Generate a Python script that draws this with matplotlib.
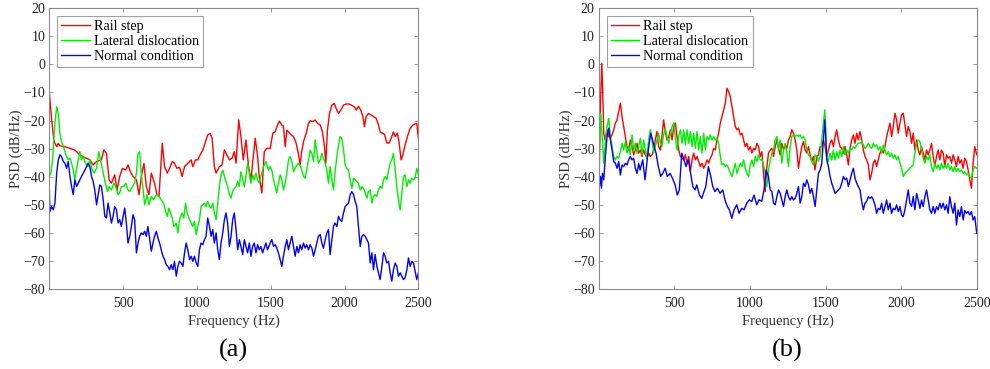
import matplotlib
matplotlib.use('Agg')
import matplotlib.pyplot as plt

# ---- (a) ----
a_rail_f = [0, 16, 32, 50, 61, 72, 106, 140, 173, 207, 241, 275, 297, 320, 353, 369, 387, 405, 421, 443,
            459, 477, 495, 518, 533, 549, 567, 590, 608, 623, 641, 657, 675, 691, 713, 729, 743, 765, 781, 799,
            815, 833, 848, 864, 882, 900, 916, 938, 961, 972, 990, 1006, 1022, 1040, 1062, 1073, 1089, 1103, 1118, 1130,
            1152, 1170, 1186, 1202, 1220, 1238, 1253, 1265, 1283, 1298, 1314, 1332, 1350, 1366, 1377, 1395, 1411, 1422, 1440, 1456,
            1472, 1496, 1514, 1530, 1546, 1559, 1575, 1586, 1598, 1609, 1620, 1636, 1654, 1672, 1688, 1699, 1710, 1722, 1740, 1756,
            1767, 1785, 1801, 1817, 1835, 1850, 1864, 1873, 1884, 1898, 1914, 1930, 1943, 1959, 1975, 1993, 2011, 2029, 2047, 2065,
            2079, 2094, 2110, 2124, 2135, 2146, 2162, 2180, 2196, 2214, 2230, 2241, 2257, 2271, 2286, 2302, 2320, 2331, 2343, 2358,
            2370, 2383, 2395, 2410, 2426, 2444, 2462, 2478, 2489, 2500]
a_rail_db = [-10, -19.8, -27.5, -29.3, -28.1, -29, -29.3, -29.9, -30.5, -32.2, -33.2, -34, -35.8, -34.6, -34, -30.5, -31.6, -41.1, -42.3, -39.3,
             -44.7, -39.9, -37, -37.6, -35.8, -38.2, -39.9, -41.1, -46.4, -39.9, -35.2, -43.5, -46.4, -38.7, -42.3, -46.4, -47, -28.1, -36.4, -38.7,
             -37, -34.6, -35.2, -37, -36.6, -39.9, -36.4, -35.2, -34, -36.4, -34, -34, -32.2, -30.5, -26.9, -25.1, -24.6, -26.3, -36.4, -38.7,
             -36.4, -35.8, -30.5, -32.2, -34, -33.4, -31.1, -35.2, -19.8, -25.7, -34, -26.9, -36.4, -41.1, -35.2, -26.3, -32.8, -39.9, -45.8, -31.1,
             -29.9, -29.9, -24.5, -24, -21.6, -20.2, -21.6, -22, -29.3, -23.4, -24, -25, -25.7, -28, -32, -35.8, -31, -27.5, -24.5, -21,
             -20, -20.4, -19.8, -21, -21.6, -24, -29.3, -35.2, -23.4, -17.5, -14.5, -13.9, -15.7, -17.5, -16.3, -14.5, -14.1, -14.1, -14.5, -15.1,
             -16.3, -14.9, -16.3, -18.6, -22.2, -18.6, -17.5, -18, -18.6, -19.2, -21.6, -24, -24.5, -25, -28, -28, -25.7, -24, -25.7, -24.5,
             -28, -34, -32.2, -28.7, -25.7, -22.8, -21.6, -21.2, -21, -26.3]

a_lat_f = [0, 11, 22, 38, 50, 61, 72, 83, 95, 106, 117, 128, 140, 151, 162, 173, 185, 196, 207, 218,
           230, 245, 263, 275, 290, 304, 320, 335, 349, 365, 380, 394, 405, 421, 437, 450, 466, 477, 488, 504,
           518, 533, 545, 563, 578, 590, 601, 612, 623, 635, 646, 662, 675, 691, 707, 725, 743, 758, 774, 788,
           799, 810, 821, 833, 844, 860, 871, 882, 900, 911, 923, 934, 950, 961, 972, 983, 995, 1006, 1017, 1028,
           1040, 1051, 1062, 1073, 1085, 1096, 1107, 1118, 1130, 1141, 1152, 1163, 1175, 1186, 1197, 1208, 1220, 1231, 1242, 1253,
           1265, 1276, 1287, 1298, 1310, 1321, 1332, 1343, 1355, 1366, 1377, 1388, 1400, 1411, 1422, 1433, 1445, 1456, 1467, 1485,
           1496, 1507, 1519, 1530, 1541, 1552, 1564, 1575, 1586, 1598, 1609, 1620, 1631, 1643, 1654, 1665, 1677, 1688, 1699, 1710,
           1722, 1733, 1744, 1756, 1767, 1778, 1790, 1801, 1812, 1823, 1835, 1846, 1857, 1869, 1880, 1891, 1902, 1914, 1925, 1936,
           1948, 1959, 1970, 1981, 1993, 2004, 2015, 2027, 2038, 2049, 2061, 2072, 2083, 2094, 2106, 2117, 2128, 2140, 2151, 2162,
           2174, 2185, 2196, 2207, 2219, 2230, 2241, 2253, 2264, 2275, 2286, 2298, 2309, 2320, 2331, 2343, 2354, 2365, 2377, 2388,
           2399, 2410, 2422, 2433, 2444, 2456, 2467, 2478, 2489, 2500]
a_lat_db = [-39.9, -38.7, -34, -21, -15.1, -17.5, -24.6, -27.5, -29.3, -31.1, -32.8, -34, -33.4, -35.2, -37.6, -41.1, -37, -34, -31.1, -34,
            -32.8, -35.2, -36.4, -34, -37.6, -38.7, -37, -31.1, -34.6, -38.7, -42.3, -45.3, -43.5, -44.7, -42.3, -43.5, -46.4, -45.8, -43.5, -43.5,
            -42.3, -44.7, -45.3, -43.5, -42.3, -38.7, -31.7, -31.1, -38.7, -44.7, -50, -46.4, -50, -47, -48.2, -46.4, -47, -48.2, -49.4, -52.4,
            -54.1, -51.2, -52.9, -54.7, -57.7, -56.5, -60, -55.3, -52.9, -54.7, -49.4, -52.9, -55.3, -56.5, -57.7, -55.9, -60.6, -57.7, -55.3, -50.6,
            -50, -49.4, -50.6, -48.8, -50.6, -51.2, -49.4, -52.9, -55.3, -49.4, -43.5, -39.3, -37.6, -39.9, -41.7, -43.5, -46.4, -47.6, -45.3, -44.1,
            -43.5, -41.7, -43.5, -38.2, -41.1, -43.5, -39.9, -35.2, -38.7, -42.3, -39.3, -41.1, -38.7, -41.1, -42.3, -39.9, -37.6, -35.8, -34.6, -37.6,
            -36.4, -37.6, -41.1, -43.5, -45.8, -42.3, -39.3, -41.1, -44.7, -42.3, -38.7, -34, -32.8, -34.6, -38.2, -37, -35.8, -35.2, -36.1, -37.6,
            -39.9, -40.5, -37.6, -34, -30.5, -31.7, -34.6, -26.9, -31.1, -35.2, -34, -31.7, -33.4, -35.2, -37.6, -42.3, -36.4, -41.1, -44.7, -38.2,
            -32.8, -28.7, -25.7, -26.3, -30.5, -35.8, -37, -37.6, -41.1, -44.1, -40.5, -41.1, -41.7, -42.3, -44.7, -43.5, -44.1, -45.8, -47.6, -45.3,
            -44.7, -49.4, -47, -46.4, -47, -44.7, -43.5, -44.1, -41.1, -39.9, -41.1, -37.6, -35.2, -34, -31.7, -37.6, -43.5, -48.2, -51.8, -45.8,
            -39.9, -39.3, -43.5, -41.1, -42.3, -40.5, -41.1, -40.5, -37, -39.3]

a_norm_f = [0, 4, 16, 27, 38, 50, 61, 72, 83, 95, 106, 117, 128, 140, 151, 162, 173, 185, 196, 207,
            218, 230, 241, 252, 263, 275, 286, 297, 308, 320, 331, 342, 353, 365, 376, 387, 398, 410, 421, 432,
            443, 455, 466, 477, 488, 500, 511, 522, 533, 545, 556, 567, 578, 590, 601, 612, 623, 635, 646, 657,
            668, 680, 691, 702, 713, 725, 736, 747, 758, 770, 781, 792, 803, 815, 826, 837, 848, 860, 871, 882,
            893, 905, 916, 927, 938, 950, 961, 972, 983, 995, 1006, 1017, 1028, 1040, 1051, 1062, 1073, 1085, 1096, 1107,
            1118, 1130, 1141, 1152, 1163, 1175, 1186, 1197, 1208, 1220, 1231, 1242, 1253, 1265, 1276, 1287, 1298, 1310, 1321, 1332,
            1343, 1355, 1366, 1377, 1388, 1400, 1411, 1422, 1433, 1445, 1456, 1467, 1478, 1496, 1507, 1519, 1530, 1541, 1552, 1564,
            1575, 1586, 1598, 1609, 1620, 1631, 1643, 1654, 1665, 1677, 1688, 1699, 1710, 1722, 1733, 1744, 1756, 1767, 1778, 1790,
            1801, 1812, 1823, 1835, 1846, 1857, 1869, 1880, 1891, 1902, 1914, 1925, 1936, 1948, 1959, 1970, 1981, 1993, 2004, 2015,
            2027, 2038, 2049, 2061, 2072, 2083, 2094, 2106, 2117, 2128, 2140, 2151, 2162, 2174, 2185, 2196, 2207, 2219, 2230, 2241,
            2253, 2264, 2275, 2286, 2298, 2309, 2320, 2331, 2343, 2354, 2365, 2377, 2388, 2399, 2410, 2422, 2433, 2444, 2456, 2467,
            2478, 2489, 2500]
a_norm_db = [-43.5, -52.4, -50.6, -51.8, -49.4, -38.7, -34, -32.2, -32.8, -34.6, -35.2, -37, -34.6, -39.9, -43.5, -46.4, -41.1, -43.5, -42.3, -41.1,
             -39.9, -38.7, -37.6, -36.4, -35.2, -36.4, -39.9, -41.7, -44.7, -50, -46.4, -42.9, -43.5, -48.2, -54.1, -54.7, -49.4, -52.9, -56.5, -54.1,
             -50.6, -51.8, -56.5, -55.3, -57.7, -54.1, -51.2, -56.5, -63.6, -61.2, -57.7, -53.5, -55.3, -67.1, -63.6, -61.2, -60, -60.6, -59.4, -61.2,
             -57.7, -62.4, -66.5, -63.6, -61.2, -59.4, -61.8, -63.6, -66, -68.3, -69.5, -71.3, -71.9, -73.1, -71.3, -73.1, -70.1, -75.4, -71.9, -70.1,
             -70.7, -71.9, -67.1, -63.6, -66, -69.5, -68.3, -70.1, -68.3, -70.7, -71.9, -66, -63.6, -64.2, -62.4, -61.2, -54.7, -57.7, -61.2, -58.8,
             -63.6, -60, -66, -69.5, -63.6, -60, -55.3, -52.9, -56.5, -64.8, -61.2, -55.3, -52.9, -58.8, -66, -62.4, -64.8, -67.7, -62.4, -64.8,
             -67.1, -63.6, -68.3, -64.8, -63.6, -67.1, -64.2, -66, -64.8, -67.1, -65.4, -63.6, -66, -63.6, -62.4, -64.8, -64.2, -65.4, -67.1, -69.5,
             -71.9, -68.3, -64.8, -62.4, -66, -63.6, -61.2, -64.8, -68.3, -64.8, -67.1, -64.2, -66, -63.6, -65.4, -64.2, -66, -64.2, -65.4, -68.3,
             -66, -63.6, -61.2, -60.6, -63.6, -65.4, -62.4, -60, -58.8, -67.7, -62.4, -57.7, -56.5, -57.7, -54.1, -55.3, -55.9, -52.9, -50.6, -50,
             -49.4, -46.4, -45.3, -46.4, -48.8, -50.6, -57.7, -64.8, -61.2, -60.6, -61.2, -62.4, -63.6, -70.7, -67.1, -73.1, -67.7, -71.9, -74.2, -76.6,
             -71.9, -67.1, -68.3, -70.7, -70.1, -74.2, -77.2, -73.1, -70.7, -71.9, -75.4, -74.2, -75.4, -76.6, -76, -73.1, -68.9, -71.9, -70.1, -70.7,
             -73.7, -76.6, -74.2]

# ---- (b) ----
b_rail_f = [0, 4, 11, 20, 26, 33, 42, 55, 66, 77, 88, 99, 110, 121, 132, 143, 154, 165, 176, 187,
            198, 209, 220, 231, 242, 253, 264, 275, 286, 297, 308, 319, 330, 341, 352, 363, 374, 385, 396, 407,
            418, 429, 440, 451, 463, 474, 485, 496, 507, 518, 529, 540, 551, 562, 573, 584, 595, 606, 617, 628,
            639, 650, 661, 672, 683, 694, 705, 716, 727, 738, 749, 760, 771, 782, 793, 804, 815, 826, 837, 848,
            859, 870, 881, 892, 903, 914, 925, 936, 947, 958, 969, 980, 991, 1002, 1013, 1024, 1035, 1046, 1057, 1068,
            1079, 1090, 1101, 1112, 1123, 1134, 1145, 1156, 1167, 1178, 1189, 1200, 1211, 1222, 1233, 1244, 1255, 1266, 1277, 1288,
            1299, 1310, 1321, 1332, 1343, 1354, 1365, 1376, 1387, 1398, 1409, 1420, 1431, 1442, 1453, 1464, 1475, 1486, 1497, 1508,
            1519, 1530, 1541, 1552, 1563, 1574, 1585, 1596, 1607, 1618, 1629, 1640, 1651, 1662, 1673, 1684, 1695, 1706, 1717, 1728,
            1739, 1750, 1761, 1772, 1783, 1794, 1805, 1816, 1827, 1838, 1849, 1860, 1871, 1882, 1893, 1904, 1915, 1926, 1937, 1948,
            1959, 1970, 1981, 1992, 2003, 2014, 2025, 2036, 2047, 2058, 2069, 2080, 2091, 2102, 2113, 2124, 2135, 2146, 2157, 2168,
            2179, 2190, 2201, 2212, 2223, 2234, 2245, 2256, 2267, 2278, 2289, 2300, 2311, 2322, 2333, 2344, 2355, 2366, 2377, 2388,
            2399, 2410, 2421, 2432, 2443, 2454, 2465, 2476, 2487, 2500]
b_rail_db = [-35, -36.4, -15, 0.4, -9.1, -24.5, -26.9, -23.3, -25.7, -26.3, -25.1, -23.3, -20.9, -19.8, -16.8, -13.8, -18.6, -22.1, -25.7, -29.3,
             -30.5, -26.9, -29.3, -32.2, -30.5, -28.1, -31.6, -30.5, -32.8, -30.5, -32.2, -33.4, -31.6, -32.8, -32.2, -30.5, -26.9, -23.9, -29.3, -30.5,
             -25.7, -19.8, -23.9, -26.9, -25.7, -23.3, -26.9, -22.1, -20.9, -25.7, -30.5, -32.8, -33.4, -34, -32.2, -35.2, -32.8, -38.2, -34, -31.6,
             -34, -32.8, -34.6, -36.4, -35.2, -37, -35.8, -34, -35.2, -33.4, -32.2, -29.9, -30.5, -26.9, -24.5, -20.9, -18.6, -16.2, -13.8, -8.5,
             -9.7, -11.5, -15, -18.6, -22.1, -23.3, -22.7, -25.1, -24.5, -26.9, -29.3, -28.1, -30.5, -29.3, -31.6, -29.9, -30.5, -28.1, -29.3, -32.8,
             -31.1, -38.8, -45.3, -36.4, -31.6, -30.5, -29.9, -32.8, -29.3, -26.9, -29.9, -32.2, -28.1, -30.5, -28.7, -29.9, -26.9, -25.7, -23.3, -24.5,
             -26.9, -30.5, -37, -32.8, -29.3, -27.5, -30.5, -31.6, -29.3, -32.2, -34.6, -32.8, -37.6, -32.8, -32.2, -29.3, -29.3, -26.9, -29.3, -32.8,
             -30.5, -28.1, -26.9, -29.3, -25.7, -23.3, -26.9, -29.3, -29.9, -31.6, -29.3, -32.2, -35.8, -29.9, -26.9, -25.1, -28.1, -24.5, -26.9, -23.9,
             -26.9, -30.5, -32.8, -34, -35.8, -41.1, -38.8, -35.2, -34, -36.4, -34, -31.6, -30.5, -31.6, -29.3, -25.7, -23.3, -20.9, -25.7, -22.1,
             -17.4, -19.8, -24.5, -20.9, -18, -17.4, -21.5, -25.7, -22.1, -23.9, -28.1, -24.5, -30.5, -26.9, -30.5, -32.2, -29.3, -31.6, -34, -30.5,
             -32.2, -30.5, -28.1, -32.8, -36.4, -32.8, -30.5, -34, -30.5, -31.6, -36.4, -32.2, -33.4, -32.8, -35.2, -32.2, -34, -36.4, -32.8, -35.2,
             -34, -37, -33.4, -34.6, -37.6, -41.1, -44.1, -35.2, -29.3, -32.2]

b_lat_f = [0, 7, 13, 22, 33, 44, 55, 66, 77, 88, 99, 110, 121, 132, 143, 154, 165, 176, 187, 198,
           209, 220, 231, 242, 253, 264, 275, 286, 297, 308, 319, 330, 341, 352, 363, 374, 385, 396, 407, 418,
           429, 440, 451, 463, 474, 485, 496, 507, 518, 529, 540, 551, 562, 573, 584, 595, 606, 617, 628, 639,
           650, 661, 672, 683, 694, 705, 716, 727, 738, 749, 760, 771, 782, 793, 804, 815, 826, 837, 848, 859,
           870, 881, 892, 903, 914, 925, 936, 947, 958, 969, 980, 991, 1002, 1013, 1024, 1035, 1046, 1057, 1068, 1079,
           1090, 1101, 1112, 1123, 1134, 1145, 1156, 1167, 1178, 1189, 1200, 1211, 1222, 1233, 1244, 1255, 1266, 1277, 1288, 1299,
           1310, 1321, 1332, 1343, 1354, 1365, 1376, 1387, 1398, 1409, 1420, 1431, 1442, 1453, 1464, 1475, 1486, 1495, 1502, 1508,
           1519, 1530, 1541, 1552, 1563, 1574, 1585, 1596, 1607, 1618, 1629, 1640, 1651, 1662, 1673, 1684, 1695, 1706, 1717, 1728,
           1739, 1750, 1761, 1772, 1783, 1794, 1805, 1816, 1827, 1838, 1849, 1860, 1871, 1882, 1893, 1904, 1915, 1926, 1937, 1948,
           1959, 1970, 1981, 1992, 2003, 2014, 2025, 2036, 2047, 2058, 2069, 2080, 2091, 2102, 2113, 2124, 2135, 2146, 2157, 2168,
           2179, 2190, 2201, 2212, 2223, 2234, 2245, 2256, 2267, 2278, 2289, 2300, 2311, 2322, 2333, 2344, 2355, 2366, 2377, 2388,
           2399, 2410, 2421, 2432, 2443, 2454, 2465, 2476, 2487, 2500]
b_lat_db = [-36.4, -26.9, -17.4, -25.7, -35.2, -26.9, -22.1, -19.2, -25.7, -29.3, -32.8, -34, -32.8, -33.4, -31.1, -28.1, -30.5, -27.5, -31.6, -29.3,
            -32.2, -25.1, -30.5, -28.1, -31.6, -29.3, -26.3, -32.2, -26.9, -30.5, -33.4, -26.9, -23.3, -26.9, -31.6, -29.3, -26.9, -24.5, -28.1, -29.3,
            -25.1, -22.7, -25.7, -28.1, -24.5, -22.1, -20.9, -26.3, -30.5, -25.7, -23.3, -28.1, -23.3, -28.7, -23.3, -28.1, -23.9, -29.3, -24.5, -29.9,
            -23.9, -30.5, -25.7, -31.6, -24.5, -30.5, -25.7, -26.9, -25.1, -26.9, -25.7, -26.9, -26.3, -28.1, -32.8, -35.8, -35.2, -36.4, -35.8, -37,
            -38.8, -40, -37.6, -35.2, -38.8, -37, -35.2, -36.4, -34, -37, -38.8, -40, -35.8, -34, -36.4, -32.8, -34.6, -32.2, -34, -34,
            -35.8, -38.8, -43.5, -37.6, -34, -31.6, -30.5, -26.9, -25.7, -30.5, -26.9, -35.2, -30.5, -28.1, -31.6, -36.4, -29.3, -25.7, -25.1, -25.7,
            -25.1, -25.7, -25.1, -26.3, -25.7, -26.9, -30.5, -32.2, -32.8, -34.6, -35.8, -32.2, -32.8, -34.6, -32.8, -26.9, -20.9, -16.2, -23.3, -32.8,
            -34.6, -31.6, -34, -30.5, -34, -31.1, -33.4, -30.5, -32.8, -29.3, -32.2, -30.5, -31.6, -29.9, -30.5, -29.3, -29.9, -28.7, -28.1, -28.1,
            -27.5, -28.7, -29.9, -29.3, -28.1, -29.3, -29.9, -28.1, -29.3, -28.7, -30.5, -29.3, -31.6, -28.7, -30.5, -32.2, -31.1, -32.8, -31.6, -33.4,
            -32.2, -34, -32.8, -35.2, -37, -40, -38.8, -38.2, -37.6, -37, -36.4, -35.8, -31.6, -28.1, -26.9, -27.5, -30.5, -33.4, -35.2, -32.8,
            -34, -32.2, -36.4, -38.2, -35.2, -37, -35.8, -37.6, -35.2, -37, -35.8, -37, -35.2, -37.6, -36.4, -38.2, -36.4, -38.2, -37, -38.2,
            -37.6, -38.8, -38.2, -39.4, -38.8, -40, -40.5, -37.6, -36.4, -37]

b_norm_f = [0, 4, 11, 18, 24, 33, 44, 55, 66, 77, 88, 99, 110, 121, 132, 143, 154, 165, 176, 187,
            198, 209, 220, 231, 242, 253, 264, 273, 291, 306, 328, 344, 361, 379, 394, 410, 423, 439, 454, 472,
            487, 505, 520, 533, 549, 564, 577, 593, 608, 622, 637, 648, 666, 681, 692, 708, 725, 741, 754, 769,
            785, 802, 820, 835, 851, 864, 880, 895, 913, 928, 946, 961, 979, 996, 1012, 1027, 1045, 1060, 1078, 1093,
            1107, 1122, 1134, 1145, 1156, 1167, 1178, 1189, 1200, 1211, 1222, 1233, 1244, 1255, 1266, 1277, 1288, 1299, 1310, 1321,
            1332, 1343, 1354, 1365, 1376, 1387, 1398, 1409, 1420, 1431, 1442, 1453, 1464, 1475, 1486, 1495, 1502, 1508, 1519, 1530,
            1541, 1552, 1563, 1574, 1585, 1596, 1607, 1618, 1629, 1640, 1651, 1662, 1673, 1684, 1695, 1706, 1717, 1728, 1739, 1750,
            1761, 1772, 1783, 1794, 1805, 1816, 1827, 1838, 1849, 1860, 1871, 1882, 1893, 1904, 1915, 1926, 1937, 1948, 1959, 1970,
            1981, 1992, 2003, 2014, 2025, 2036, 2047, 2058, 2069, 2080, 2091, 2102, 2113, 2124, 2135, 2146, 2157, 2168, 2179, 2190,
            2201, 2212, 2223, 2234, 2245, 2256, 2267, 2278, 2289, 2300, 2311, 2322, 2333, 2344, 2355, 2366, 2377, 2388, 2399, 2410,
            2421, 2432, 2443, 2454, 2465, 2476, 2487, 2500]
b_norm_db = [-26.9, -43.5, -39.9, -44.1, -38.8, -41.1, -32.8, -25.7, -22.7, -26.9, -30.5, -34.6, -35.2, -37, -34.6, -39.4, -35.8, -36.4, -35.2, -35.8,
             -34, -32.8, -34, -33.4, -37, -38.8, -35.2, -37.6, -34, -41.1, -30.4, -24.5, -28.1, -31.6, -36.4, -39.9, -38.8, -37, -39.9, -38.8,
             -40.5, -42.9, -46.5, -44.7, -31.6, -34, -36.4, -34, -38.8, -43.5, -44.7, -42.9, -46.5, -47.7, -45.9, -43.5, -36.4, -39.9, -43.5, -45.3,
             -44.1, -45.9, -44.7, -48.3, -50.6, -51.8, -54.8, -51.8, -50, -53, -51.2, -51.8, -49.4, -48.2, -48.8, -46.5, -50, -48.2, -48.8, -44.7,
             -37.6, -39.9, -44.7, -45.3, -49.4, -50, -47.1, -44.7, -45.9, -48.3, -50.6, -47.1, -44.7, -47.1, -48.3, -47.1, -48.3, -47.7, -45.9, -43.5,
             -49.4, -47.1, -42.3, -43.5, -41.1, -42.9, -45.9, -44.1, -47.1, -50.6, -44.7, -38.8, -37.6, -35.2, -26.9, -19.8, -26.9, -34, -36.4, -39.9,
             -42.3, -44.1, -45.9, -45.3, -44.7, -44.1, -42.3, -39.9, -41.1, -40.5, -43.5, -41.1, -38.8, -37, -40.5, -42.3, -43.5, -44.7, -48.8, -51.8,
             -49.4, -48.8, -47.1, -47.7, -47.1, -48.3, -50, -53, -51.2, -51.8, -49.4, -53, -50.6, -48.3, -51.8, -49.4, -53, -51.2, -51.8, -50,
             -52.4, -50.6, -53.6, -54.2, -51.8, -48.3, -44.7, -49.4, -50.6, -47.1, -51.8, -45.9, -48.3, -51.2, -48.3, -50.6, -47.1, -44.7, -48.3, -51.8,
             -53, -50.6, -53, -50.6, -51.8, -49.4, -51.2, -49.4, -51.8, -50, -53, -47.1, -50.6, -53, -49.4, -57.2, -51.8, -54.2, -50.6, -55.4,
             -52, -53, -52.4, -53.6, -52.4, -55.4, -54.2, -60.1]

labels = ['Rail step', 'Lateral dislocation', 'Normal condition']
colors = ['#ff0000', '#00ee00', '#0000ff']
panels = [
    ('(a)', [(a_rail_f, a_rail_db), (a_lat_f, a_lat_db), (a_norm_f, a_norm_db)]),
    ('(b)', [(b_rail_f, b_rail_db), (b_lat_f, b_lat_db), (b_norm_f, b_norm_db)]),
]
xticks = [500, 1000, 1500, 2000, 2500]
yticks = list(range(-80, 21, 10))

plt.rcParams['font.family'] = ['Liberation Serif', 'DejaVu Serif']

fig = plt.figure(figsize=(9.9, 3.69), dpi=100)
axes_pos = [[0.0498, 0.2165, 0.3728, 0.7614],
            [0.6048, 0.2165, 0.3818, 0.7614]]
gray = '#8a8a8a'

for (tag, series), pos in zip(panels, axes_pos):
    ax = fig.add_axes(pos)
    for (f, db), c, lab in zip(series, colors, labels):
        ax.plot(f, db, color=c, lw=1.0, label=lab)
    ax.set_xlim(0, 2500)
    ax.set_ylim(-80, 20)
    ax.set_xticks(xticks)
    ax.set_yticks(yticks)
    ax.tick_params(direction='in', length=3, width=0.6, top=True, right=True,
                   labelsize=10, colors=gray, labelcolor='#222222', pad=3)
    ax.tick_params(axis='x', pad=6)
    for s in ax.spines.values():
        s.set_color(gray)
        s.set_linewidth(0.8)
    ax.set_xlabel('Frequency (Hz)', fontsize=10.5, color='#333333', labelpad=3)
    ax.set_ylabel('PSD (dB/Hz)', fontsize=10.5, color='#333333', labelpad=0)
    leg = ax.legend(loc='upper left', fontsize=10.2, frameon=True, fancybox=False,
                    handlelength=2.0, handletextpad=0.3, borderpad=0.3,
                    labelspacing=0.12, borderaxespad=0.55)
    leg.get_frame().set_edgecolor(gray)
    leg.get_frame().set_linewidth(0.8)
    cx = pos[0] + pos[2] / 2
    fig.text(cx, 0.05, tag, ha='center', va='center', fontsize=19)

fig.savefig('out.png', dpi=100)
